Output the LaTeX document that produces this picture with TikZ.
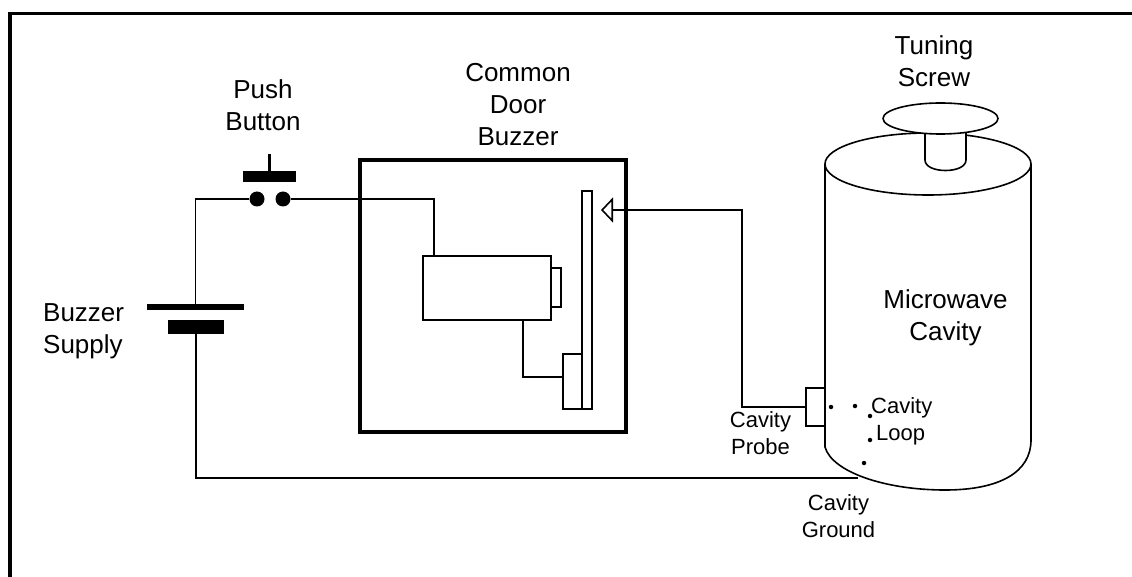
\documentclass[tikz,border=0pt]{standalone}
\usepackage{fontspec}
\setmainfont{Liberation Sans}
\usetikzlibrary{arrows.meta, positioning}
\tikzset{
	partnode/.style={
			rectangle,
			draw=black,
			line width=1.6pt,
			fill=white,
			inner sep=0pt
		},
	platenode/.style={
			rectangle,
			fill=black,
			inner sep=0pt
		},
	contactnode/.style={
			circle,
			fill=black,
			minimum size=15pt,
			inner sep=0pt
		},
	dotnode/.style={
			circle,
			fill=black,
			minimum size=4.5pt,
			inner sep=0pt
		},
	labelnode/.style={
			align=center,
			font=\fontsize{26}{32}\selectfont,
			inner sep=0pt
		},
	smalllabelnode/.style={
			align=center,
			font=\fontsize{22}{27}\selectfont,
			inner sep=0pt
		},
	wire/.style={
			line width=1.6pt
		}
}
\begin{document}
\begin{tikzpicture}[x=1pt, y=-1pt]
\useasboundingbox (0,0) rectangle (1132,577);
\draw[line width=3.5pt] (10,577) -- (10,13.5) -- (1132,13.5);

% cavity
\draw[wire] (825,164) -- (825,447) .. controls (832,472) and (885,490) .. (945,490)
  .. controls (1000,490) and (1031,472) .. (1031,440) -- (1031,164);
\draw[wire] (928,164) ellipse (103 and 31);
\draw[wire, fill=white] (925,125) -- (925,160) .. controls (925,174) and (966,174) .. (966,160) -- (966,125);
\draw[wire, fill=white] (940.5,118.5) ellipse (57.5 and 15.5);
\node[partnode, minimum width=19pt, minimum height=38pt] (probe) at (815.5,407) {};

% buzzer
\node[rectangle, draw=black, line width=4.5pt, minimum width=266pt, minimum height=272pt, inner sep=0pt] (buzzer) at (493,296) {};
\node[partnode, minimum width=128pt, minimum height=64pt] (coil) at (487,288) {};
\node[partnode, minimum width=10pt, minimum height=39pt] (pole) at (556,287.5) {};
\node[partnode, minimum width=19pt, minimum height=55pt] (mount) at (572.5,381.5) {};
\node[partnode, minimum width=10pt, minimum height=218pt] (arm) at (587,300) {};

% switch and battery
\node[platenode, minimum width=53pt, minimum height=11pt] (buttonbar) at (269.5,176.5) {};
\coordinate (buttontop) at (269.5,154);
\node[contactnode] (contactl) at (257,199) {};
\node[contactnode] (contactr) at (283,199) {};
\node[platenode, minimum width=97pt, minimum height=6pt] (plateplus) at (195.5,307) {};
\node[platenode, minimum width=56pt, minimum height=14pt] (plateminus) at (196,327) {};

\coordinate (armtip) at (601,210);
\coordinate (probebend) at (742,407);
\coordinate (ground) at (858,478);

\draw[line width=2.2pt] (buttontop) -- (buttonbar);
\draw[wire] (contactl) -| (plateplus);
\draw[wire] (plateminus) |- (ground);
\draw[wire] (contactr) -| ([xshift=12pt]coil.north west);
\draw[wire] ([xshift=101pt]coil.south west) |- ([yshift=4.5pt]mount.west);
\draw[wire, -{Triangle[open, length=12pt, width=25pt, line width=1.6pt]}] (probe.west) -- (probebend) |- (armtip);

% dots in the cavity
\node[dotnode] (dot1) at (831,407) {};
\node[dotnode] (dot2) at (855,406) {};
\node[dotnode] (dot3) at (870,416) {};
\node[dotnode] (dot4) at (870,440) {};
\node[dotnode] (dot5) at (864,463) {};

% labels
\node[labelnode] (pushlabel) at (263,105) {Push\\Button};
\node[labelnode] (doorlabel) at (518,105) {Common\\Door\\Buzzer};
\node[labelnode] (tuninglabel) at (934,61) {Tuning\\Screw};
\node[labelnode, align=left, anchor=west] (supplylabel) at (43,331) {Buzzer\\Supply};
\node[labelnode] (cavitylabel) at (945.5,318) {Microwave\\Cavity};
\node[smalllabelnode, align=left, anchor=west] (looplabel) at (871,421.5) {Cavity\\\hspace*{5pt}Loop};
\node[smalllabelnode] (probelabel) at (760.5,433.5) {Cavity\\Probe};
\node[smalllabelnode] (groundlabel) at (838.5,516.5) {Cavity\\Ground};
\end{tikzpicture}
\end{document}
